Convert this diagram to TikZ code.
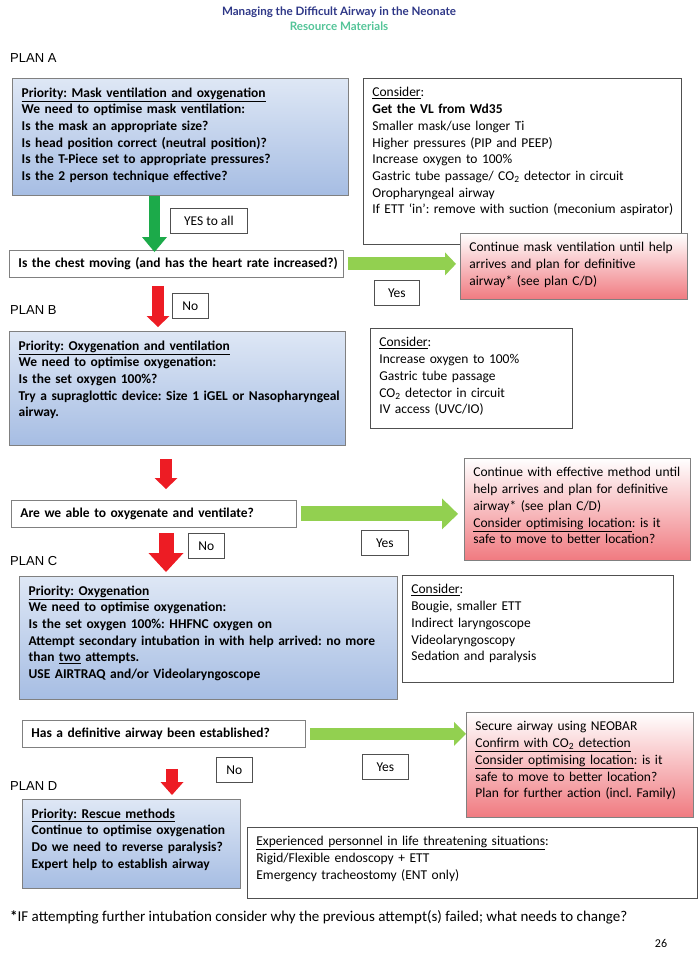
\documentclass[tikz,border=0pt]{standalone}
\usepackage{fontspec}
\setmainfont{Carlito}
\newfontfamily\titlefont{Lato}
\newfontfamily\planfont{Liberation Sans}
\usetikzlibrary{positioning,arrows.meta}
\frenchspacing

\definecolor{titleblue}{RGB}{46,55,135}
\definecolor{titleteal}{RGB}{84,196,152}
\definecolor{planpale}{RGB}{222,231,245}
\definecolor{planblue}{RGB}{166,189,227}
\definecolor{contred}{RGB}{240,122,128}
\definecolor{yesgreen}{RGB}{28,170,74}
\definecolor{golime}{RGB}{146,208,80}
\definecolor{stopred}{RGB}{237,28,36}
\definecolor{edgegray}{RGB}{128,128,128}
\definecolor{darkedge}{RGB}{80,80,80}

% lines of a box, never broken
\newcommand{\boxlines}[1]{\begin{tabular}[t]{@{}l@{}}#1\end{tabular}}

\tikzset{
  body/.style={font=\fontsize{13.5}{16.7}\selectfont},
  topbox/.style={body, draw=darkedge, line width=0.8pt, anchor=north west,
    align=left, inner xsep=9pt, inner ysep=6.5pt, text height=12pt},
  planbox/.style={topbox, draw=edgegray, line width=1.3pt,
    top color=planpale, bottom color=planblue,
    font=\bfseries\fontsize{13.5}{16.7}\selectfont},
  considerbox/.style={topbox, fill=white},
  contbox/.style={topbox, draw=edgegray, top color=white, bottom color=contred},
  askbox/.style={draw=edgegray, line width=0.8pt, fill=white, anchor=north west,
    align=left, inner xsep=9pt, minimum height=27pt,
    font=\bfseries\fontsize{13.5}{16.7}\selectfont},
  tagbox/.style={body, draw=darkedge, line width=0.8pt, fill=white,
    anchor=north west, minimum height=25pt, inner sep=0pt},
  planlabel/.style={anchor=west, inner sep=0pt, font=\planfont\fontsize{13}{15}\selectfont},
  blockarrow/.style n args={4}{draw=#1, line width=#2,
    -{Triangle[width=#3, length=#4, line width=0pt]}},
}

\begin{document}
\begin{tikzpicture}[x=1pt, y=-1pt]
  \useasboundingbox (0,0) rectangle (700,969);

  % heading
  \node[font=\titlefont\bfseries\fontsize{11.6}{13}\selectfont, text=titleblue]
    (title) at (339,12) {Managing the Difficult Airway in the Neonate};
  \node[font=\titlefont\bfseries\fontsize{11.6}{13}\selectfont, text=titleteal]
    (subtitle) at (339,26) {Resource Materials};

  % plan A
  \node[planlabel] (labelA) at (10,58) {PLAN A};
  \node[planbox, text width=318pt, text depth=92pt] (planA) at (12,78)
    {\boxlines{\underline{Priority: Mask ventilation and oxygenation}\\
     We need to optimise mask ventilation:\\
     Is the mask an appropriate size?\\
     Is head position correct (neutral position)?\\
     Is the T-Piece set to appropriate pressures?\\
     Is the 2 person technique effective?}};
  \node[considerbox, text width=300pt, text depth=141pt] (considerA) at (363,78)
    {\boxlines{\underline{Consider}:\\
     \textbf{Get the VL from Wd35}\\
     Smaller mask/use longer Ti\\
     Higher pressures (PIP and PEEP)\\
     Increase oxygen to 100\%\\
     Gastric tube passage/ CO\textsubscript{2} detector in circuit\\
     Oropharyngeal airway\\
     If ETT ‘in’: remove with suction (meconium aspirator)}};
  \node[askbox, text width=316pt] (askA) at (9,250)
    {\boxlines{Is the chest moving (and has the heart rate increased?)}};
  \node[contbox, text width=209pt, text depth=41pt] (contA) at (460,233)
    {\boxlines{Continue mask ventilation until help\\
     arrives and plan for definitive\\
     airway* (see plan C/D)}};
  \node[tagbox, minimum width=77pt] (yesAll) at (170,208) {YES to all};
  \node[tagbox, minimum width=45pt] (yesA) at (374,280) {Yes};
  \node[tagbox, minimum width=36pt] (noA) at (172,293) {No};

  % plan B
  \node[planlabel] (labelB) at (10,310) {PLAN B};
  \node[planbox, text width=318pt, text depth=89pt] (planB) at (9,331)
    {\boxlines{\underline{Priority: Oxygenation and ventilation}\\
     We need to optimise oxygenation:\\
     Is the set oxygen 100\%?\\
     Try a supraglottic device: Size 1 iGEL or Nasopharyngeal\\
     airway.}};
  \node[considerbox, text width=184pt, text depth=75pt] (considerB) at (370,328)
    {\boxlines{\underline{Consider}:\\
     Increase oxygen to 100\%\\
     Gastric tube passage\\
     CO\textsubscript{2} detector in circuit\\
     IV access (UVC/IO)}};
  \node[askbox, text width=267pt] (askB) at (11,500)
    {\boxlines{Are we able to oxygenate and ventilate?}};
  \node[contbox, text width=208pt, text depth=77pt] (contB) at (464,458)
    {\boxlines{Continue with effective method until\\
     help arrives and plan for definitive\\
     airway* (see plan C/D)\\
     \underline{Consider optimising location}: is it\\
     safe to move to better location?}};
  \node[tagbox, minimum width=36pt] (noB) at (188,533) {No};
  \node[tagbox, minimum width=47pt] (yesB) at (361,530) {Yes};

  % plan C
  \node[planlabel] (labelC) at (10,561) {PLAN C};
  \node[planbox, text width=360pt, text depth=98pt] (planC) at (19,576)
    {\boxlines{\underline{Priority: Oxygenation}\\
     We need to optimise oxygenation:\\
     Is the set oxygen 100\%: HHFNC oxygen on\\
     Attempt secondary intubation in with help arrived: no more\\
     than \underline{two} attempts.\\
     USE AIRTRAQ and/or Videolaryngoscope}};
  \node[considerbox, text width=253pt, text depth=82pt] (considerC) at (402,575)
    {\boxlines{\underline{Consider}:\\
     Bougie, smaller ETT\\
     Indirect laryngoscope\\
     Videolaryngoscopy\\
     Sedation and paralysis}};
  \node[askbox, text width=265pt] (askC) at (22,720)
    {\boxlines{Has a definitive airway been established?}};
  \node[contbox, text width=209pt, text depth=80pt] (contC) at (466,712)
    {\boxlines{Secure airway using NEOBAR\\
     \underline{Confirm with CO\textsubscript{2} detection}\\
     \underline{Consider optimising location}: is it\\
     safe to move to better location?\\
     Plan for further action (incl. Family)}};
  \node[tagbox, minimum width=36pt] (noC) at (216,757) {No};
  \node[tagbox, minimum width=46pt] (yesC) at (362,754) {Yes};

  % plan D
  \node[planlabel] (labelD) at (10,786) {PLAN D};
  \node[planbox, text width=200pt, text depth=64pt] (planD) at (22,799)
    {\boxlines{\underline{Priority: Rescue methods}\\
     Continue to optimise oxygenation\\
     Do we need to reverse paralysis?\\
     Expert help to establish airway}};
  \node[considerbox, text width=432pt, text depth=46pt] (expertD) at (247,827)
    {\boxlines{\underline{Experienced personnel in life threatening situations}:\\
     Rigid/Flexible endoscopy + ETT\\
     Emergency tracheostomy (ENT only)}};

  % footer
  \node[anchor=west, inner sep=0pt, font=\fontsize{15}{18}\selectfont] (footnote) at (10,917)
    {\textbf{*}IF attempting further intubation consider why the previous attempt(s) failed; what needs to change?};
  \node[font=\fontsize{12}{14}\selectfont] (pagenum) at (661,943) {26};

  % block arrows
  \coordinate (colA) at (154.5,0);
  \coordinate (colB) at (158,0);
  \coordinate (colC) at (166,0);
  \coordinate (colD) at (172,0);
  \draw[blockarrow={yesgreen}{11pt}{25pt}{15pt}]
    (planA.south -| colA) -- ([yshift=-2pt]askA.north -| colA);
  \draw[blockarrow={stopred}{12pt}{23pt}{11pt}]
    ([yshift=-8pt]askA.south -| colB) -- ([yshift=4pt]planB.north -| colB);
  \draw[blockarrow={stopred}{12pt}{23pt}{11pt}]
    ([yshift=-13pt]planB.south -| colC) -- ([yshift=11pt]askB.north -| colC);
  \draw[blockarrow={stopred}{15pt}{35pt}{19pt}]
    ([yshift=-5pt]askB.south -| colC) -- ([yshift=4pt]planC.north -| colC);
  \draw[blockarrow={stopred}{12pt}{23pt}{13pt}]
    ([yshift=-21pt]askC.south -| colD) -- ([yshift=4pt]planD.north -| colD);
  \draw[blockarrow={golime}{13pt}{23pt}{11pt}]
    ([xshift=4pt]askA.east) -- ([xshift=-4pt]askA.east -| contA.west);
  \draw[blockarrow={golime}{15pt}{31pt}{16pt}]
    ([xshift=4pt]askB.east) -- ([xshift=-6pt]askB.east -| contB.west);
  \draw[blockarrow={golime}{12pt}{24pt}{12pt}]
    ([xshift=4pt]askC.east) -- (askC.east -| contC.west);
\end{tikzpicture}
\end{document}
